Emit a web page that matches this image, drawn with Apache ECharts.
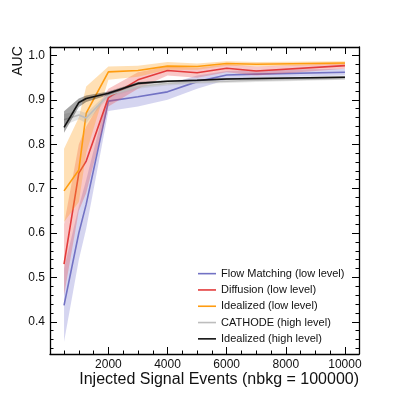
<!DOCTYPE html>
<html>
<head>
<meta charset="utf-8">
<script src="https://cdn.jsdelivr.net/npm/echarts@6/dist/echarts.min.js"></script>
<style>
  html, body { margin: 0; padding: 0; background: #fff; }
  #chart { width: 399px; height: 399px; }
</style>
</head>
<body>
<div id="chart"></div>
<script>
// injected signal events
var xValues = [500, 1000, 1250, 2000, 3000, 4000, 5000, 6000, 7000, 10000];

// Flow Matching (low level)
var fmMean = [0.437, 0.600, 0.665, 0.897, 0.907, 0.918, 0.941, 0.956, 0.958, 0.962];
var fmLow  = [0.355, 0.540, 0.610, 0.875, 0.885, 0.900, 0.925, 0.945, 0.950, 0.955];
var fmHigh = [0.520, 0.660, 0.720, 0.918, 0.930, 0.935, 0.955, 0.965, 0.967, 0.970];

// Diffusion (low level)
var dfMean = [0.530, 0.735, 0.762, 0.905, 0.945, 0.966, 0.961, 0.971, 0.965, 0.977];
var dfLow  = [0.460, 0.650, 0.690, 0.885, 0.925, 0.955, 0.950, 0.962, 0.955, 0.970];
var dfHigh = [0.620, 0.800, 0.840, 0.925, 0.962, 0.975, 0.972, 0.980, 0.975, 0.983];

// Idealized (low level)
var ilMean = [0.695, 0.742, 0.870, 0.963, 0.966, 0.976, 0.975, 0.982, 0.980, 0.983];
var ilLow  = [0.625, 0.670, 0.780, 0.945, 0.952, 0.968, 0.968, 0.977, 0.975, 0.979];
var ilHigh = [0.790, 0.860, 0.930, 0.975, 0.977, 0.985, 0.982, 0.987, 0.985, 0.987];

// CATHODE (high level)
var caMean = [0.855, 0.866, 0.859, 0.911, 0.930, 0.937, 0.940, 0.942, 0.944, 0.948];
var caLow  = [0.842, 0.856, 0.848, 0.905, 0.925, 0.932, 0.936, 0.938, 0.940, 0.945];
var caHigh = [0.868, 0.876, 0.870, 0.917, 0.935, 0.941, 0.944, 0.946, 0.947, 0.951];

// Idealized (high level)
var ihMean = [0.838, 0.894, 0.903, 0.915, 0.937, 0.942, 0.944, 0.947, 0.948, 0.951];
var ihLow  = [0.826, 0.884, 0.895, 0.911, 0.934, 0.940, 0.942, 0.945, 0.946, 0.949];
var ihHigh = [0.874, 0.903, 0.910, 0.919, 0.940, 0.944, 0.946, 0.949, 0.950, 0.953];

// tick labels
var xMajor = [2000, 4000, 6000, 8000, 10000];
var yMajor = [0.4, 0.5, 0.6, 0.7, 0.8, 0.9, 1.0];

var xMinor = [];
for (var v = 500; v <= 10000; v += 500) xMinor.push(v);
var yMinor = [];
for (var k = 17; k <= 50; k++) yMinor.push(+(k * 0.02).toFixed(2));

var models = [
  { name: 'Flow Matching (low level)', mean: fmMean, low: fmLow, high: fmHigh, line: '#7272c4', band: 'rgba(115,115,205,0.30)' },
  { name: 'Diffusion (low level)',     mean: dfMean, low: dfLow, high: dfHigh, line: '#e33b3b', band: 'rgba(235,70,70,0.30)' },
  { name: 'Idealized (low level)',     mean: ilMean, low: ilLow, high: ilHigh, line: '#ff9c10', band: 'rgba(255,160,30,0.33)' },
  { name: 'CATHODE (high level)',      mean: caMean, low: caLow, high: caHigh, line: '#bdbdbd', band: 'rgba(170,170,170,0.30)' },
  { name: 'Idealized (high level)',    mean: ihMean, low: ihLow, high: ihHigh, line: '#111111', band: 'rgba(30,30,30,0.40)' }
];

var FONT = 'Liberation Sans, Arial, Helvetica, sans-serif';
var X_MIN = 25, X_MAX = 10475, Y_MIN = 0.3275, Y_MAX = 1.019;

function xAxisDef(pos, values, len, labels, line) {
  return {
    type: 'value', position: pos, min: X_MIN, max: X_MAX,
    splitLine: { show: false },
    axisLine: { show: line, onZero: false, lineStyle: { color: '#000', width: 1.3 } },
    axisTick: { show: true, inside: true, length: len, customValues: values, lineStyle: { color: '#000', width: 1 } },
    axisLabel: labels ? {
      show: true, customValues: xMajor, color: '#111', fontSize: 12, fontFamily: FONT, margin: 5,
      formatter: function (v) { return String(v); }
    } : { show: false }
  };
}
function yAxisDef(pos, values, len, labels, line) {
  return {
    type: 'value', position: pos, min: Y_MIN, max: Y_MAX,
    splitLine: { show: false },
    axisLine: { show: line, onZero: false, lineStyle: { color: '#000', width: 1.3 } },
    axisTick: { show: true, inside: true, length: len, customValues: values, lineStyle: { color: '#000', width: 1 } },
    axisLabel: labels ? {
      show: true, customValues: yMajor, color: '#111', fontSize: 12, fontFamily: FONT, margin: 5,
      formatter: function (v) { return v.toFixed(1); }
    } : { show: false }
  };
}

var xAxes = [
  xAxisDef('bottom', xMajor, 7, true, true),
  xAxisDef('bottom', xMinor, 3.5, false, false),
  xAxisDef('top', xMajor, 7, false, true),
  xAxisDef('top', xMinor, 3.5, false, false)
];
xAxes[0].name = 'Injected Signal Events (nbkg = 100000)';
xAxes[0].nameLocation = 'end';
xAxes[0].nameGap = 0;
xAxes[0].nameTextStyle = { fontSize: 16, fontFamily: FONT, color: '#111', align: 'right', verticalAlign: 'top', padding: [18, 0, 0, 0] };

var yAxes = [
  yAxisDef('left', yMajor, 7, true, true),
  yAxisDef('left', yMinor, 3.5, false, false),
  yAxisDef('right', yMajor, 7, false, true),
  yAxisDef('right', yMinor, 3.5, false, false)
];

var series = [];
models.forEach(function (m, i) {
  series.push({
    type: 'custom',
    name: m.name + ' band',
    xAxisIndex: 0, yAxisIndex: 0,
    z: 2 + 2 * i,
    silent: true,
    data: xValues.map(function (x, j) { return [x, m.low[j], m.high[j]]; }),
    renderItem: function (params, api) {
      if (params.dataIndex !== 0) return null;
      var upper = xValues.map(function (x, j) { return api.coord([x, m.high[j]]); });
      var lower = xValues.map(function (x, j) { return api.coord([x, m.low[j]]); }).reverse();
      return {
        type: 'polygon',
        shape: { points: upper.concat(lower) },
        style: { fill: m.band, stroke: null }
      };
    }
  });
  series.push({
    type: 'line',
    name: m.name,
    xAxisIndex: 0, yAxisIndex: 0,
    z: 3 + 2 * i,
    symbol: 'none',
    color: m.line,
    lineStyle: { color: m.line, width: 1.6 },
    data: xValues.map(function (x, j) { return [x, m.mean[j]]; })
  });
});

var chart = echarts.init(document.getElementById('chart'), null, { renderer: 'canvas' });
chart.setOption({
  animation: false,
  backgroundColor: '#fff',
  grid: { left: 50, right: 40, top: 47, bottom: 45, containLabel: false },
  xAxis: xAxes,
  yAxis: yAxes,
  graphic: [{
    type: 'text',
    x: 18, y: 61,
    rotation: Math.PI / 2,
    style: { text: 'AUC', fontSize: 14, fontFamily: FONT, fill: '#111', align: 'center', verticalAlign: 'middle' }
  }],
  legend: {
    data: models.map(function (m) { return m.name; }),
    orient: 'vertical',
    left: 193, top: 262,
    icon: 'rect',
    itemWidth: 18, itemHeight: 1.6,
    itemGap: 3,
    textStyle: { fontSize: 11, fontFamily: FONT, color: '#111', lineHeight: 13.3, padding: [0, 0, 0, 0] }
  },
  series: series
});
</script>
</body>
</html>
